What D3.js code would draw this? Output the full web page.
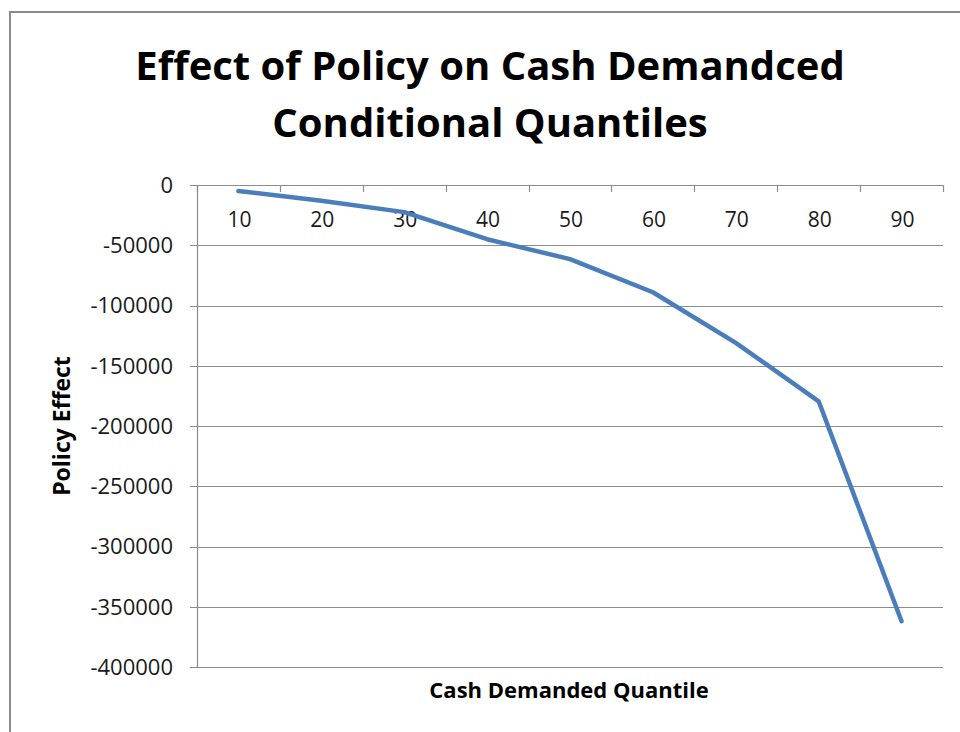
<!DOCTYPE html>
<html>
<head>
<meta charset="utf-8">
<script src="https://cdn.jsdelivr.net/npm/d3@7"></script>
<style>
  body { margin: 0; background: #fff; }
  text { font-family: "Open Sans", sans-serif; fill: #000; }
</style>
</head>
<body>
<div id="chart"></div>
<script>
// data
let quantiles = ["10", "20", "30", "40", "50", "60", "70", "80", "90"];
let effects = [-5000, -13000, -22500, -45000, -61500, -89000, -131000, -179500, -362000];
let yTicks = [0, -50000, -100000, -150000, -200000, -250000, -300000, -350000, -400000];

let width = 960, height = 732;
let margin = { left: 197, right: 17, top: 185, bottom: 65 };

let svg = d3.select("#chart").append("svg")
    .attr("width", width)
    .attr("height", height);

// outer chart border (cropped on the right / bottom)
svg.append("rect")
    .attr("x", 10).attr("y", 12)
    .attr("width", 980).attr("height", 760)
    .attr("fill", "none")
    .attr("stroke", "#8c8c8c")
    .attr("stroke-width", 2);

let x = d3.scaleBand()
    .domain(quantiles)
    .range([margin.left, width - margin.right]);

let y = d3.scaleLinear()
    .domain([-400000, 0])
    .range([height - margin.bottom, margin.top]);

// horizontal gridlines
svg.append("g")
    .selectAll("line")
    .data(yTicks)
    .join("line")
    .attr("x1", margin.left - 7)
    .attr("x2", width - margin.right)
    .attr("y1", d => Math.round(y(d)) + 0.5)
    .attr("y2", d => Math.round(y(d)) + 0.5)
    .attr("stroke", "#8c8c8c")
    .attr("stroke-width", 1.2);

// y axis line
svg.append("line")
    .attr("x1", margin.left + 0.5).attr("x2", margin.left + 0.5)
    .attr("y1", y(0)).attr("y2", y(-400000))
    .attr("stroke", "#8c8c8c")
    .attr("stroke-width", 1.2);

// y tick labels
svg.append("g")
    .selectAll("text")
    .data(yTicks)
    .join("text")
    .attr("x", margin.left - 24)
    .attr("y", d => y(d))
    .attr("dy", "0.36em")
    .attr("text-anchor", "end")
    .style("font-size", "22px")
    .style("fill", "#1a1a1a")
    .text(d => d);

// category tick marks at band edges (axis sits at y = 0, top of plot)
let edges = quantiles.map(d => x(d)).concat([x(quantiles[quantiles.length - 1]) + x.bandwidth()]);
svg.append("g")
    .selectAll("line")
    .data(edges)
    .join("line")
    .attr("x1", d => Math.round(d) + 0.5)
    .attr("x2", d => Math.round(d) + 0.5)
    .attr("y1", y(0))
    .attr("y2", y(0) + 7)
    .attr("stroke", "#8c8c8c")
    .attr("stroke-width", 1.2);

// category labels
svg.append("g")
    .selectAll("text")
    .data(quantiles)
    .join("text")
    .attr("x", d => x(d) + x.bandwidth() / 2 + 1)
    .attr("y", 227)
    .attr("text-anchor", "middle")
    .style("font-size", "21px")
    .style("fill", "#1a1a1a")
    .text(d => d);

// data line
let line = d3.line()
    .x((d, i) => x(quantiles[i]) + x.bandwidth() / 2)
    .y(d => y(d));

svg.append("path")
    .datum(effects)
    .attr("d", line)
    .attr("fill", "none")
    .attr("stroke", "#4a7ebb")
    .attr("stroke-width", 4.5)
    .attr("stroke-linejoin", "round")
    .attr("stroke-linecap", "round");

// title
let title = svg.append("text")
    .attr("x", 490)
    .attr("text-anchor", "middle")
    .style("font-size", "40px")
    .style("font-weight", "bold");
title.append("tspan").attr("x", 490).attr("y", 80).text("Effect of Policy on Cash Demandced");
title.append("tspan").attr("x", 490).attr("y", 137).text("Conditional Quantiles");

// axis titles
svg.append("text")
    .attr("x", 569)
    .attr("y", 698)
    .attr("text-anchor", "middle")
    .style("font-size", "22px")
    .style("font-weight", "bold")
    .text("Cash Demanded Quantile");

svg.append("text")
    .attr("transform", "translate(70,426) rotate(-90)")
    .attr("text-anchor", "middle")
    .style("font-size", "23px")
    .style("font-weight", "bold")
    .text("Policy Effect");
</script>
</body>
</html>
